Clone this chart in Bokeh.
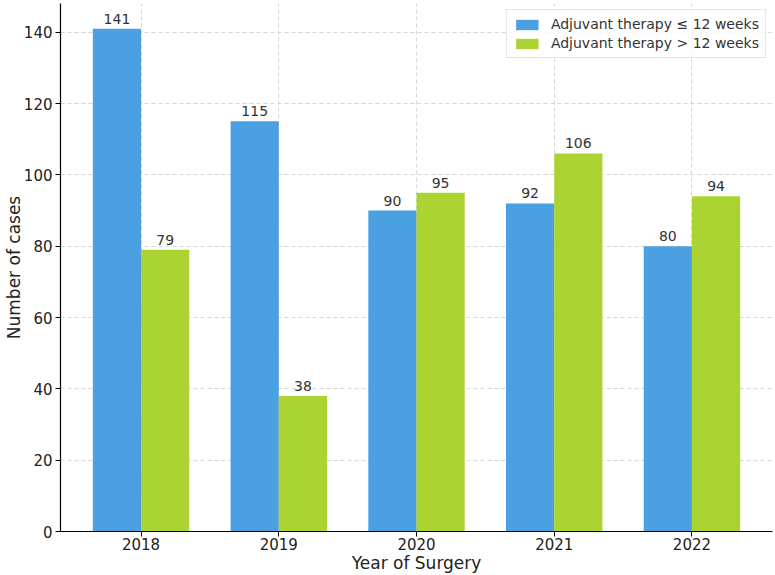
from bokeh.plotting import figure
from bokeh.models import ColumnDataSource, Range1d, FixedTicker, Legend, LegendItem
from bokeh.embed import file_html
from bokeh.resources import INLINE
from bokeh.core.properties import value

years = ["2018", "2019", "2020", "2021", "2022"]
le12 = [141, 115, 90, 92, 80]
gt12 = [79, 38, 95, 106, 94]
series_names = ["Adjuvant therapy \u2264 12 weeks", "Adjuvant therapy > 12 weeks"]
colors = ["#4aa0e0", "#abd432"]

FONT = "DejaVu Sans"
w = 0.35
idx = list(range(len(years)))

p = figure(width=775, height=575, output_backend="svg", toolbar_location=None,
           x_range=Range1d(-0.585, len(years) - 1 + 0.585),
           y_range=Range1d(0, max(le12 + gt12) * 1.05))
p.min_border_left = 0
p.min_border_right = 3
p.min_border_top = 3
p.min_border_bottom = 0
p.outline_line_color = None
p.background_fill_color = "white"
p.border_fill_color = "white"

src1 = ColumnDataSource(dict(x=[i - w / 2 for i in idx], top=le12, lbl=[str(v) for v in le12]))
src2 = ColumnDataSource(dict(x=[i + w / 2 for i in idx], top=gt12, lbl=[str(v) for v in gt12]))

r1 = p.vbar(x="x", top="top", width=w, source=src1, fill_color=colors[0], line_color=None)
r2 = p.vbar(x="x", top="top", width=w, source=src2, fill_color=colors[1], line_color=None)

for s in (src1, src2):
    p.text(x="x", y="top", text="lbl", source=s, text_align="center", text_baseline="bottom",
           y_offset=-5, text_font=value(FONT), text_font_size="14px", text_color="#333333")

p.xaxis.ticker = FixedTicker(ticks=idx)
p.xaxis.major_label_overrides = {i: y for i, y in zip(idx, years)}
p.yaxis.ticker = FixedTicker(ticks=[0, 20, 40, 60, 80, 100, 120, 140])

for ax in (p.xaxis, p.yaxis):
    ax.axis_line_color = "black"
    ax.axis_line_width = 1.2
    ax.major_tick_line_color = "black"
    ax.major_tick_out = 5
    ax.major_tick_in = 0
    ax.minor_tick_line_color = None
    ax.major_label_text_font = FONT
    ax.major_label_text_font_size = "15px"
    ax.major_label_text_color = "#222222"
    ax.major_label_standoff = 3
    ax.axis_label_text_font = FONT
    ax.axis_label_text_font_size = "17px"
    ax.axis_label_text_font_style = "normal"
    ax.axis_label_text_color = "#222222"

p.xaxis.axis_label = "Year of Surgery"
p.yaxis.axis_label = "Number of cases"
p.xaxis.major_label_standoff = 1
p.xaxis.axis_label_standoff = 0
p.yaxis.axis_label_standoff = -3

for g in (p.xgrid, p.ygrid):
    g.grid_line_color = "#cccccc"
    g.grid_line_dash = "4 3"
    g.grid_line_width = 0.8
p.xgrid.ticker = FixedTicker(ticks=idx)

legend = Legend(items=[LegendItem(label=series_names[0], renderers=[r1]),
                       LegendItem(label=series_names[1], renderers=[r2])],
                location="top_right")
legend.label_text_font = FONT
legend.label_text_font_size = "14px"
legend.label_text_color = "#333333"
legend.border_line_color = "#cccccc"
legend.border_line_width = 1
legend.background_fill_alpha = 0.8
legend.margin = 6
legend.padding = 6
legend.spacing = 3
legend.glyph_width = 28
legend.glyph_height = 13
legend.label_standoff = 10
legend.label_height = 16
p.add_layout(legend)

open("out.html", "w").write(file_html(p, INLINE))
